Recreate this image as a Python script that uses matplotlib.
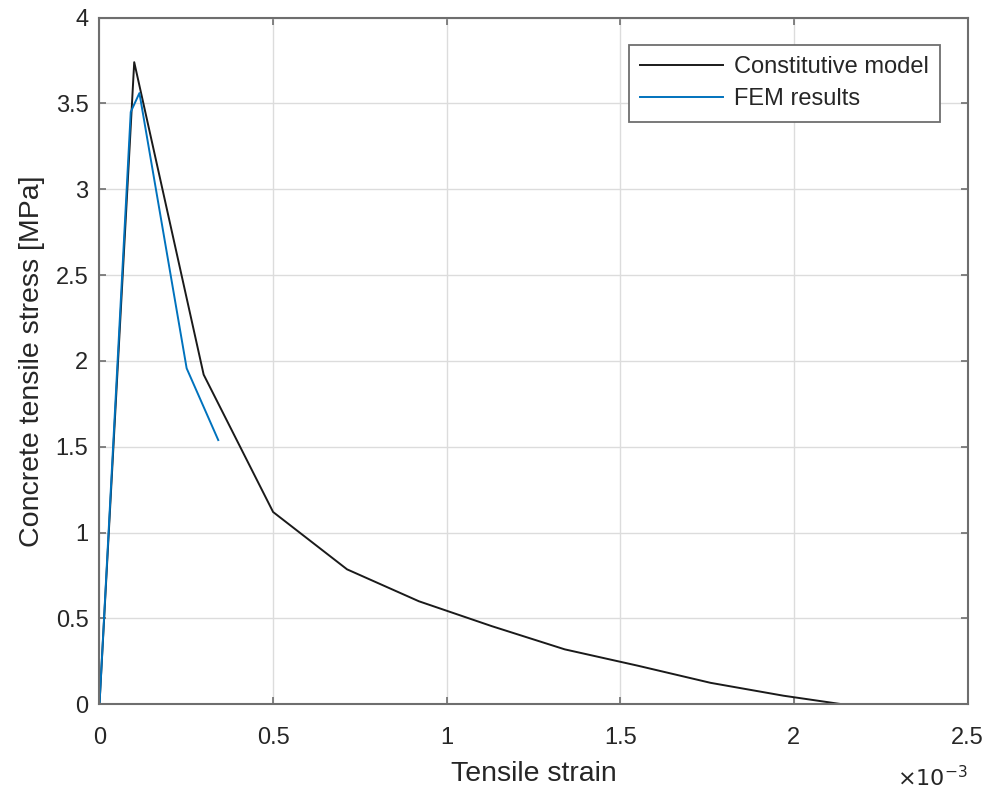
import matplotlib
matplotlib.use("Agg")
import matplotlib.pyplot as plt
from matplotlib.ticker import FixedLocator, FuncFormatter

plt.rcParams['font.family'] = ['Liberation Sans', 'DejaVu Sans']

# Constitutive tension-softening model (strain in units of 1e-3, stress in MPa)
strain_model_e3 = [0.0, 0.10, 0.30, 0.50, 0.713, 0.92, 1.13, 1.34, 1.55, 1.76, 1.97, 2.14]
stress_model = [0.0, 3.74, 1.92, 1.12, 0.786, 0.60, 0.455, 0.32, 0.225, 0.125, 0.05, 0.0]

# FEM results
strain_fem_e3 = [0.0, 0.09, 0.115, 0.251, 0.342]
stress_fem = [0.0, 3.45, 3.56, 1.957, 1.539]

xticks_e3 = [0, 0.5, 1, 1.5, 2, 2.5]
yticks = [0, 0.5, 1, 1.5, 2, 2.5, 3, 3.5, 4]

axis_gray = '#6e6e6e'
text_gray = '#262626'

fig = plt.figure(figsize=(9.89, 7.96), dpi=100)
ax = fig.add_axes([0.1006, 0.1152, 0.8777, 0.8628])

ax.plot([s * 1e-3 for s in strain_model_e3], stress_model, color='#1a1a1a',
        lw=1.4, label='Constitutive model')
ax.plot([s * 1e-3 for s in strain_fem_e3], stress_fem, color='#0072BD',
        lw=1.4, label='FEM results')

ax.set_xlim(0, 2.5e-3)
ax.set_ylim(0, 4)
ax.xaxis.set_major_locator(FixedLocator([v * 1e-3 for v in xticks_e3]))
ax.xaxis.set_major_formatter(FuncFormatter(lambda v, p: f"{v * 1e3:g}"))
ax.yaxis.set_major_locator(FixedLocator(yticks))
ax.yaxis.set_major_formatter(FuncFormatter(lambda v, p: f"{v:g}"))

ax.grid(True, color='#dcdcdc', lw=1.0)
ax.set_axisbelow(True)

for sp in ax.spines.values():
    sp.set_color(axis_gray)
    sp.set_linewidth(1.5)

ax.tick_params(axis='both', which='major', direction='in', length=5, width=1.2,
               color=axis_gray, labelcolor=text_gray, labelsize=17,
               top=True, right=True)
ax.tick_params(axis='x', pad=16)
ax.tick_params(axis='y', pad=8)

ax.set_xlabel('Tensile strain', fontsize=20.5, color=text_gray, labelpad=9)
ax.set_ylabel('Concrete tensile stress [MPa]', fontsize=20.5, color=text_gray, labelpad=8)

ax.text(1.0, -0.119, r'$\times10^{-3}$', transform=ax.transAxes, ha='right',
        va='baseline', fontsize=16, color=text_gray)

leg = ax.legend(loc='upper right', fontsize=17, frameon=True, fancybox=False,
                borderaxespad=1.15, handlelength=3.5, handletextpad=0.45,
                labelspacing=0.42, borderpad=0.5)
leg.get_frame().set_edgecolor(axis_gray)
leg.get_frame().set_linewidth(1.3)
leg.get_frame().set_alpha(1.0)
for t in leg.get_texts():
    t.set_color(text_gray)

fig.savefig('out.png', dpi=100, facecolor='white')
